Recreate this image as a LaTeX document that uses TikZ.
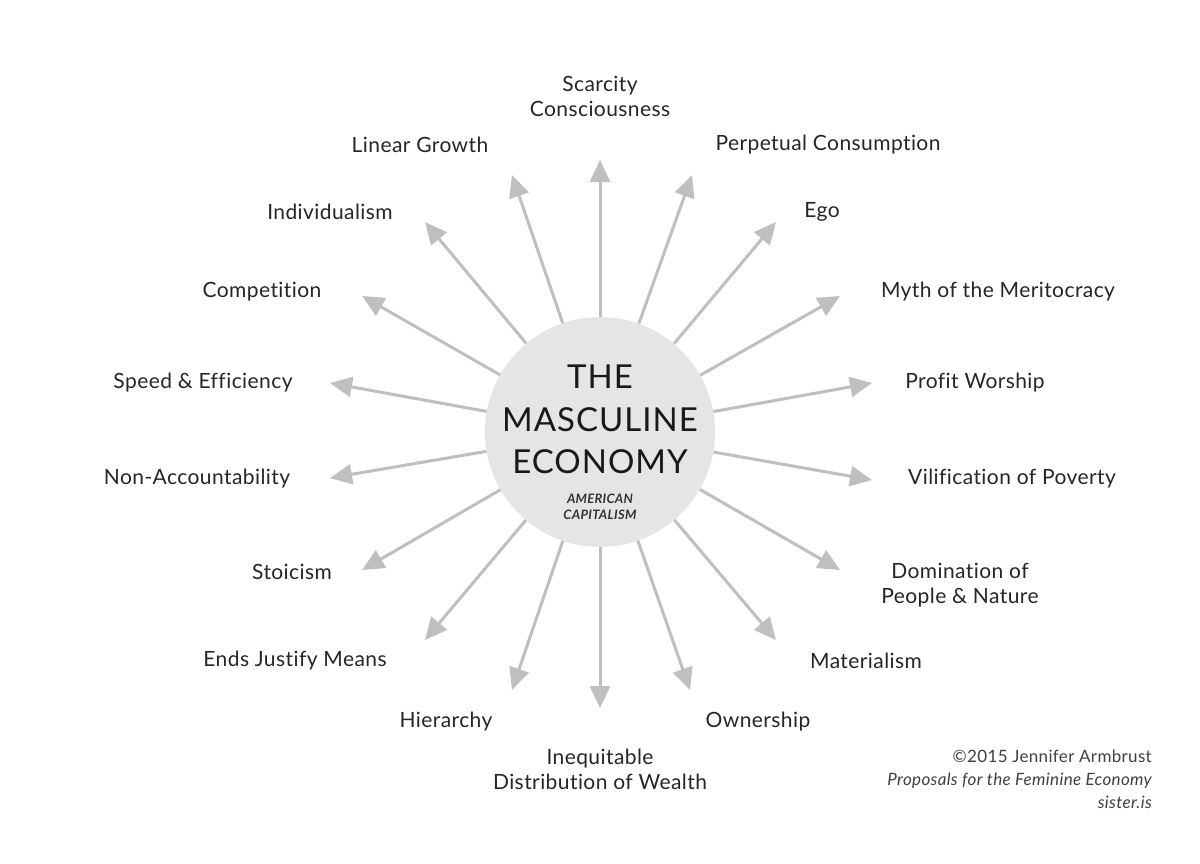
\documentclass[tikz,border=0pt]{standalone}
\usepackage{fontspec}
\setmainfont{Lato}[Ligatures=NoCommon,LetterSpace=2]
\usetikzlibrary{arrows.meta}
\begin{document}
\begin{tikzpicture}[x=1pt,y=-1pt,
  arr/.style={draw=black!25,line width=3pt,-{Triangle[length=22pt,width=20pt]}},
  lab/.style={font=\fontsize{21}{25}\selectfont,text=black!85,align=center,inner sep=0pt},
  ttl/.style={font=\fontsize{33}{36}\selectfont\addfontfeature{LetterSpace=3},text=black!90,inner sep=0pt},
  sub/.style={font=\fontsize{13}{16}\selectfont\bfseries\itshape,text=black!80,inner sep=0pt}]
\useasboundingbox (0,0) rectangle (1200,863);
\fill[white] (0,0) rectangle (1200,863);
\node[circle,fill=black!10,minimum size=230pt,inner sep=0pt] (ctr) at (600,432) {};
\foreach \n/\x/\y in {a/600/160,b/692/175,c/776/222,d/840/296,e/872/383,f/872/480,g/840/570,h/776/640,i/690/690,j/600/708,k/512/690,l/425/640,m/362/570,n/330/478,o/330/383,p/362/296,q/425/222,r/512/175}{
  \coordinate (t\n) at (\x,\y);
  \draw[arr] (ctr) -- (t\n);
}
\node[ttl] (l1) at (600,377) {THE};
\node[ttl] (l2) at (600,420) {MASCULINE};
\node[ttl] (l3) at (600,462) {ECONOMY};
\node[sub,align=center] (l4) at (600,507) {AMERICAN\\CAPITALISM};
\node[lab] (na) at (600,96) {Scarcity\\Consciousness};
\node[lab] (nr) at (420,145) {Linear Growth};
\node[lab] (nb) at (828,145) {Perpetual Consumption};
\node[lab] (nq) at (330,212) {Individualism};
\node[lab] (nc) at (822,212) {Ego};
\node[lab] (np) at (262,292) {Competition};
\node[lab] (nd) at (998,292) {Myth of the Meritocracy};
\node[lab] (no) at (203,383) {Speed \& Efficiency};
\node[lab] (ne) at (975,383) {Profit Worship};
\node[lab] (nn) at (197,479) {Non-Accountability};
\node[lab] (nf) at (1012,479) {Vilification of Poverty};
\node[lab] (nm) at (292,572) {Stoicism};
\node[lab] (ng) at (960,585) {Domination of\\People \& Nature};
\node[lab] (nl) at (295,661) {Ends Justify Means};
\node[lab] (nh) at (866,661) {Materialism};
\node[lab] (nk) at (446,722) {Hierarchy};
\node[lab] (ni) at (758,722) {Ownership};
\node[lab] (nj) at (600,769) {Inequitable\\Distribution of Wealth};
\node[font=\fontsize{17}{23}\selectfont,text=black!75,align=right,anchor=north east,inner sep=0pt] (cp) at (1152,750)
 {©2015 Jennifer Armbrust\\\itshape Proposals for the Feminine Economy\\\itshape sister.is};
\end{tikzpicture}
\end{document}
